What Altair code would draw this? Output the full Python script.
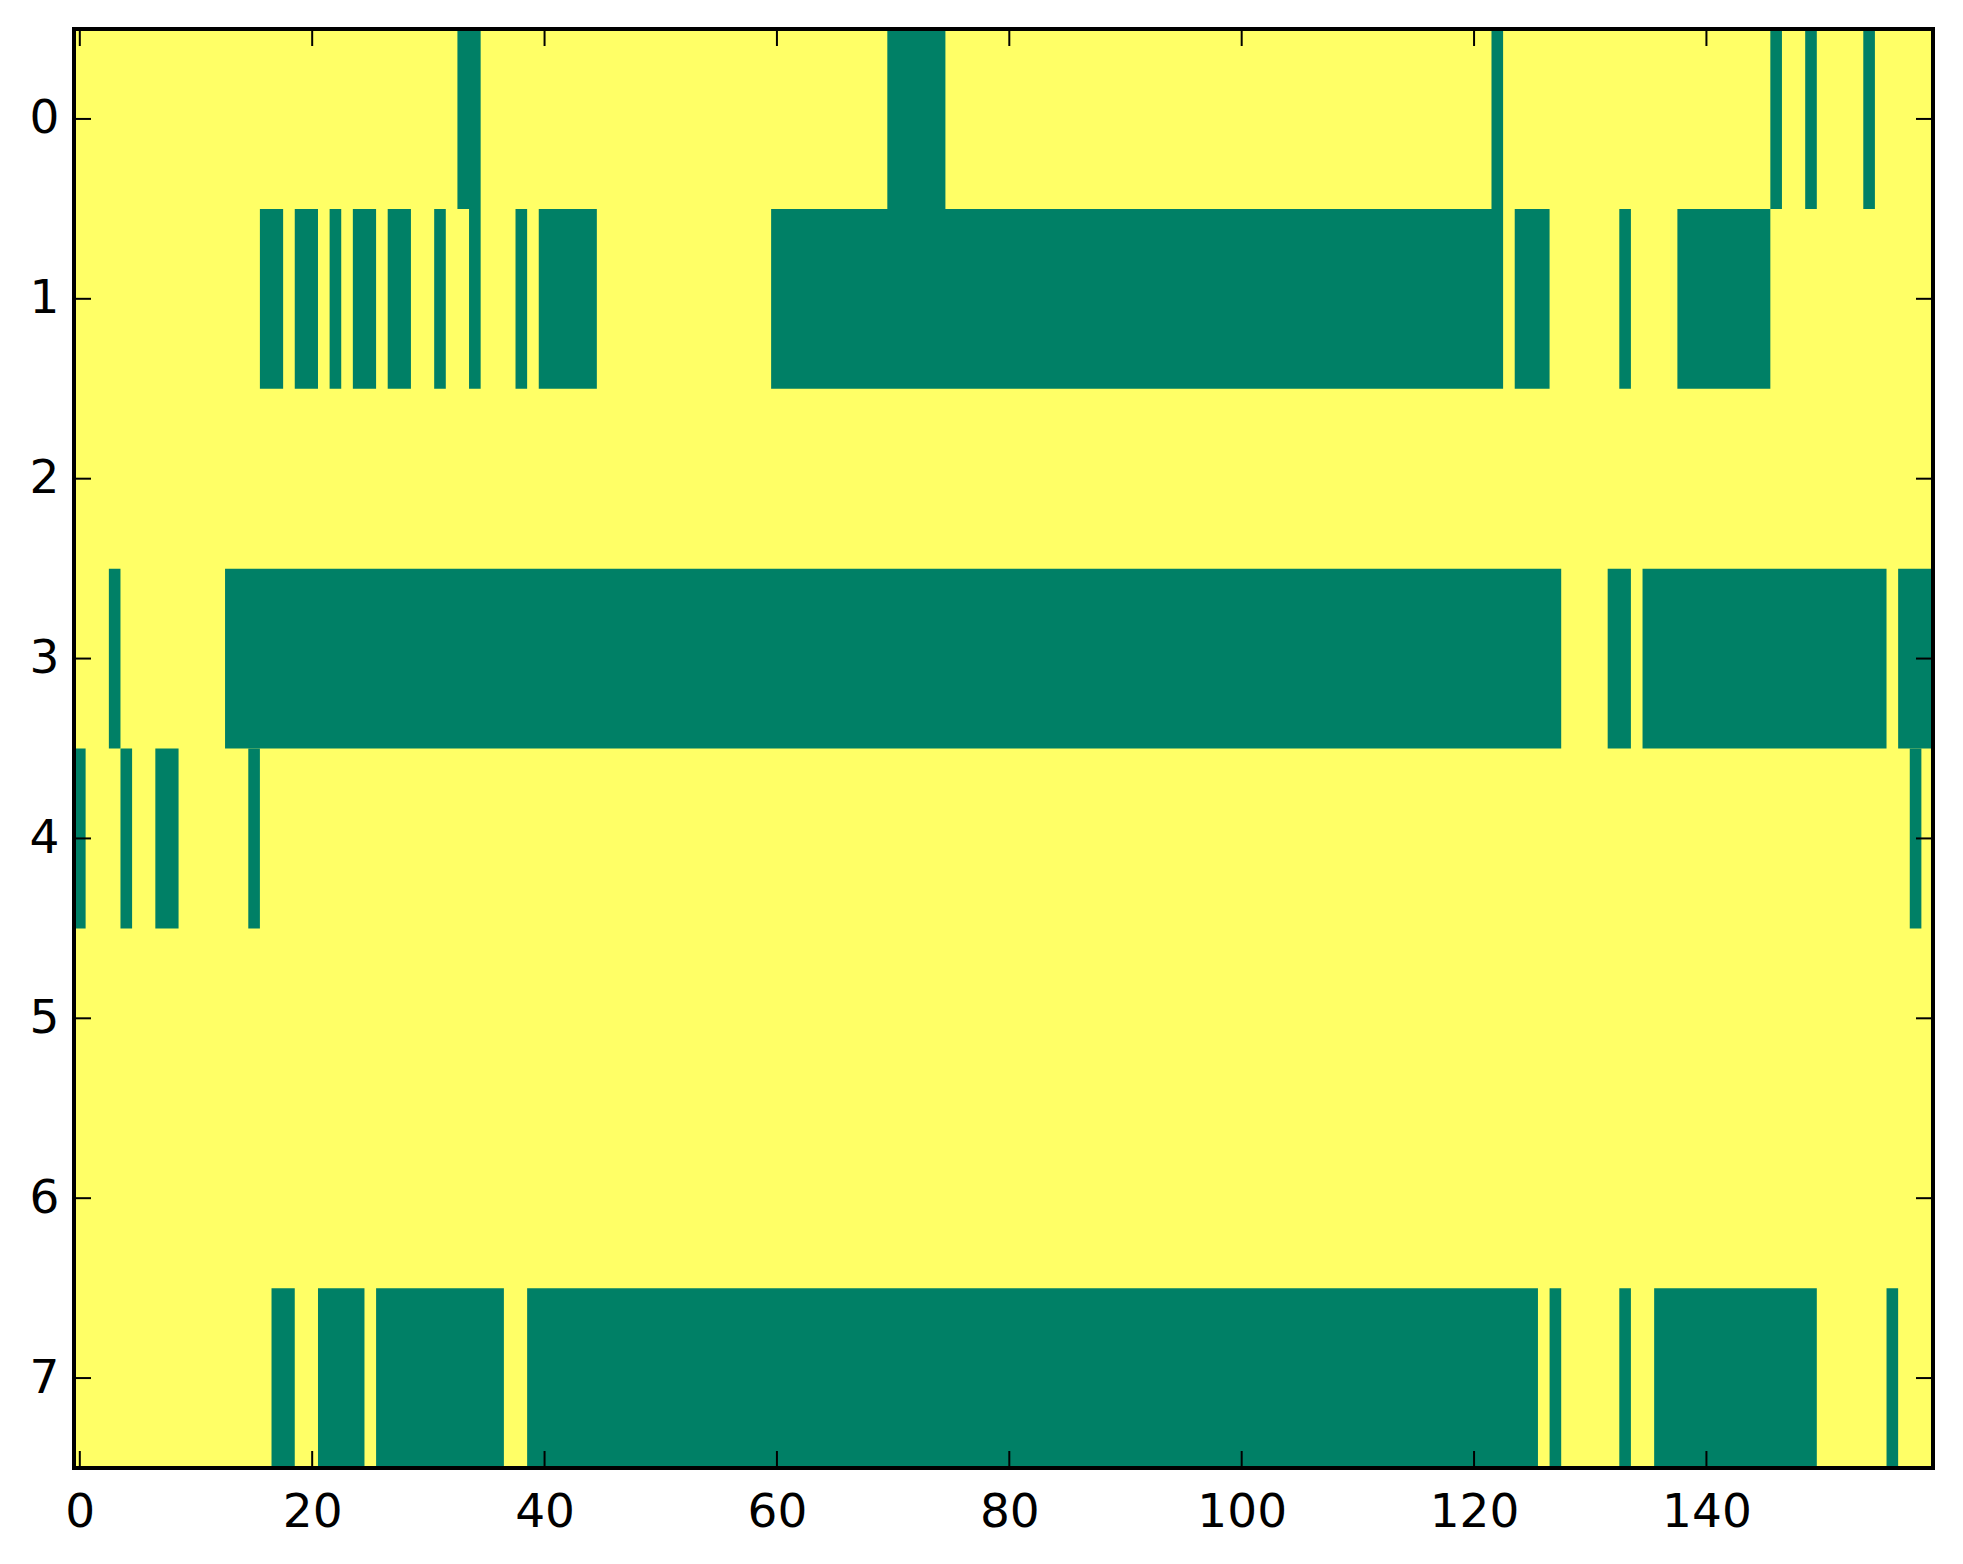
import altair as alt
import pandas as pd

# Green runs (inclusive column ranges) per row of the 8 x 160 binary matrix
n_cols = 160
n_rows = 8
row0 = [(33, 34), (70, 74), (122, 122), (146, 146), (149, 149), (154, 154)]
row1 = [(16, 17), (19, 20), (22, 22), (24, 25), (27, 28), (31, 31), (34, 34),
        (38, 38), (40, 44), (60, 122), (124, 126), (133, 133), (138, 145)]
row2 = []
row3 = [(3, 3), (13, 127), (132, 133), (135, 155), (157, 159)]
row4 = [(0, 0), (4, 4), (7, 8), (15, 15), (158, 158)]
row5 = []
row6 = []
row7 = [(17, 18), (21, 24), (26, 36), (39, 125), (127, 127), (133, 133),
        (136, 149), (156, 156)]
rows = [row0, row1, row2, row3, row4, row5, row6, row7]

x_ticks = [0, 20, 40, 60, 80, 100, 120, 140]
y_ticks = [0, 1, 2, 3, 4, 5, 6, 7]

GREEN = "#008066"
YELLOW = "#ffff66"
W, H = 1859, 1439
FONT = "DejaVu Sans"
FS = 47

recs = []
for r, runs in enumerate(rows):
    for a, b in runs:
        recs.append({"x0": a - 0.5, "x1": b + 0.5, "y0": r - 0.5, "y1": r + 0.5})
runs_df = pd.DataFrame(recs)

xs = alt.Scale(domain=[-0.5, n_cols - 0.5], nice=False, zero=False)
ys = alt.Scale(domain=[-0.5, n_rows - 0.5], nice=False, zero=False, reverse=True)

xaxis = alt.Axis(values=x_ticks, format="d", ticks=False, domain=False, grid=False,
                 labelFont=FONT, labelFontSize=FS, labelColor="black",
                 labelPadding=21, labelFlush=False)
yaxis = alt.Axis(values=y_ticks, format="d", ticks=False, domain=False, grid=False,
                 labelFont=FONT, labelFontSize=FS, labelColor="black",
                 labelPadding=15)

cells = alt.Chart(runs_df).mark_rect(color=GREEN, strokeWidth=0).encode(
    x=alt.X("x0:Q", scale=xs, axis=xaxis, title=None),
    x2="x1:Q",
    y=alt.Y("y0:Q", scale=ys, axis=yaxis, title=None),
    y2="y1:Q",
)

xt = pd.DataFrame({"t": x_ticks})
yt = pd.DataFrame({"r": y_ticks})
TL = 17
tick_style = dict(color="black", strokeWidth=2)

bottom_ticks = alt.Chart(xt).mark_rule(**tick_style).encode(
    x=alt.X("t:Q", scale=xs), y=alt.value(H), y2=alt.value(H - TL))
top_ticks = alt.Chart(xt).mark_rule(**tick_style).encode(
    x=alt.X("t:Q", scale=xs), y=alt.value(0), y2=alt.value(TL))
left_ticks = alt.Chart(yt).mark_rule(**tick_style).encode(
    y=alt.Y("r:Q", scale=ys), x=alt.value(0), x2=alt.value(TL))
right_ticks = alt.Chart(yt).mark_rule(**tick_style).encode(
    y=alt.Y("r:Q", scale=ys), x=alt.value(W - TL), x2=alt.value(W))

frame = alt.Chart(pd.DataFrame({"k": [0]})).mark_rect(
    filled=False, stroke="black", strokeWidth=4).encode(
    x=alt.value(0), x2=alt.value(W), y=alt.value(0), y2=alt.value(H))

chart = alt.layer(cells, bottom_ticks, top_ticks, left_ticks, right_ticks, frame).properties(
    width=W, height=H,
    padding={"left": 21, "top": 19, "right": 8, "bottom": 8},
    background="white",
).configure_view(fill=YELLOW, stroke=None)

chart.save("out.html", embed_options={"renderer": "svg", "actions": False})
